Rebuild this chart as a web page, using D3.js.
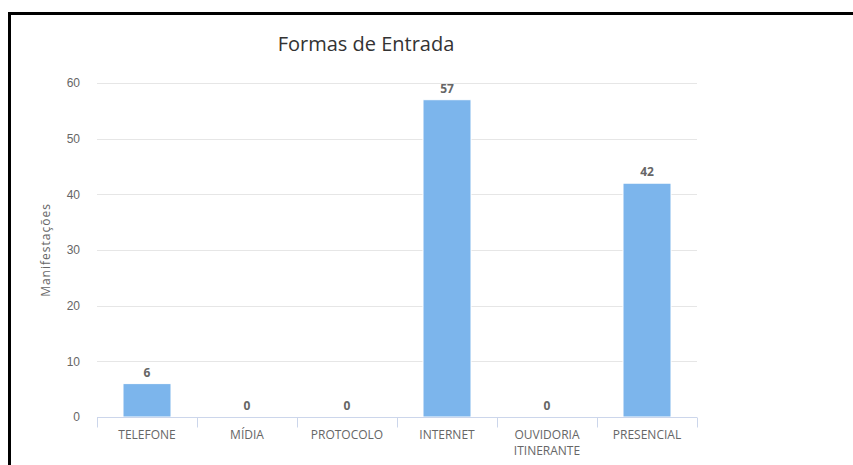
<!DOCTYPE html>
<html>
<head>
<meta charset="utf-8">
<script src="https://cdn.jsdelivr.net/npm/d3@7"></script>
<style>
    body { margin: 0; background: #fff; }
    svg { display: block; font-family: "Open Sans", "Noto Sans", sans-serif; }
</style>
</head>
<body>
<svg id="chart" width="853" height="465"></svg>
<script>
// data
var categories = ["TELEFONE", "MÍDIA", "PROTOCOLO", "INTERNET", "OUVIDORIA ITINERANTE", "PRESENCIAL"];
var values = [6, 0, 0, 57, 0, 42];
var yTicks = [0, 10, 20, 30, 40, 50, 60];

var svg = d3.select("#chart");

// frame (top and left edges only are visible)
svg.append("path")
    .attr("d", "M9.5,465 L9.5,13.5 L853,13.5")
    .attr("fill", "none")
    .attr("stroke", "#000")
    .attr("stroke-width", 3);

const plotLeft = 97, plotRight = 697, plotTop = 83, plotBottom = 417;

var x = d3.scaleBand()
    .domain(categories)
    .range([plotLeft, plotRight])
    .paddingInner(0)
    .paddingOuter(0);

var y = d3.scaleLinear()
    .domain([0, 60])
    .range([plotBottom, plotTop]);

// title
svg.append("text")
    .attr("x", 366)
    .attr("y", 51)
    .attr("text-anchor", "middle")
    .attr("fill", "#333")
    .style("font-size", "20px")
    .text("Formas de Entrada");

// gridlines
svg.append("g")
    .selectAll("line")
    .data(yTicks.filter(t => t > 0))
    .join("line")
    .attr("x1", plotLeft)
    .attr("x2", plotRight)
    .attr("y1", d => Math.round(y(d)) + 0.5)
    .attr("y2", d => Math.round(y(d)) + 0.5)
    .attr("stroke", "#e6e6e6");

// y axis labels
var yAxis = svg.append("g")
    .attr("transform", "translate(" + (plotLeft - 17) + ",0)")
    .call(d3.axisLeft(y).tickValues(yTicks).tickSize(0).tickPadding(0));
yAxis.select(".domain").remove();
yAxis.selectAll("text")
    .attr("fill", "#666")
    .style("font-size", "12px");

// y axis title
svg.append("text")
    .attr("transform", "translate(50," + ((plotTop + plotBottom) / 2) + ") rotate(-90)")
    .attr("text-anchor", "middle")
    .attr("fill", "#666")
    .style("font-size", "12px")
    .style("letter-spacing", "1px")
    .text("Manifestações");

// bars
var barW = 48;
svg.append("g")
    .selectAll("rect")
    .data(values)
    .join("rect")
    .attr("x", (d, i) => x(categories[i]) + (x.bandwidth() - barW) / 2)
    .attr("width", barW)
    .attr("y", d => y(d))
    .attr("height", d => plotBottom - y(d))
    .attr("fill", "#7cb5ec")
    .attr("stroke", "#fff")
    .attr("stroke-width", 1);

// data labels
svg.append("g")
    .selectAll("text")
    .data(values)
    .join("text")
    .attr("x", (d, i) => x(categories[i]) + x.bandwidth() / 2)
    .attr("y", d => y(d) - 7)
    .attr("text-anchor", "middle")
    .attr("fill", "#666")
    .style("font-size", "12px")
    .style("font-weight", "bold")
    .text(d => d);

// x axis
var xAxis = svg.append("g")
    .attr("transform", "translate(0," + (plotBottom + 0.5) + ")");
xAxis.append("line")
    .attr("x1", plotLeft)
    .attr("x2", plotRight)
    .attr("stroke", "#ccd6eb");
xAxis.selectAll(".tick")
    .data(d3.range(categories.length + 1))
    .join("line")
    .attr("class", "tick")
    .attr("x1", i => Math.round(plotLeft + i * x.bandwidth()) + 0.5)
    .attr("x2", i => Math.round(plotLeft + i * x.bandwidth()) + 0.5)
    .attr("y1", 0)
    .attr("y2", 10)
    .attr("stroke", "#ccd6eb");

var labels = xAxis.selectAll(".lbl")
    .data(categories)
    .join("text")
    .attr("class", "lbl")
    .attr("text-anchor", "middle")
    .attr("fill", "#666")
    .style("font-size", "12px");
labels.each(function (c) {
    var words = c.split(" ");
    var t = d3.select(this);
    words.forEach((w, k) => {
        t.append("tspan")
            .attr("x", x(c) + x.bandwidth() / 2)
            .attr("y", 21 + k * 16)
            .text(w);
    });
});
</script>
</body>
</html>
